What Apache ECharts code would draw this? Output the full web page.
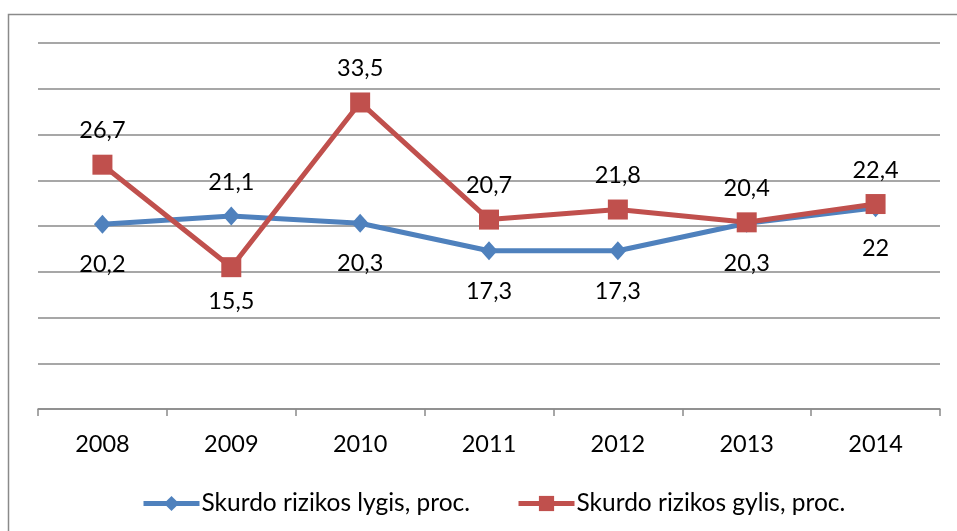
<!DOCTYPE html>
<html>
<head>
<meta charset="utf-8">
<script src="https://cdn.jsdelivr.net/npm/echarts@6/dist/echarts.min.js"></script>
<style>
html,body{margin:0;padding:0;background:#fff;}
#chart{width:957px;height:531px;}
</style>
</head>
<body>
<div id="chart"></div>
<script>
const years = ['2008','2009','2010','2011','2012','2013','2014'];
const lygis = [20.2, 21.1, 20.3, 17.3, 17.3, 20.3, 22];
const gylis = [26.7, 15.5, 33.5, 20.7, 21.8, 20.4, 22.4];
const seriesNames = ['Skurdo rizikos lygis, proc.', 'Skurdo rizikos gylis, proc.'];

const FONT = 'Lato';
const FS = 23.5;
const fmt = p => String(p.value).replace('.', ',');

// which points have their label flipped relative to the series default
const lygisAbove = [1];
const gylisBelow = [1];

function build(values, defPos, flipIdx, flipPos, defDist, flipDist) {
  return values.map((v, i) => {
    const flip = flipIdx.indexOf(i) >= 0;
    return {
      value: v,
      label: { position: flip ? flipPos : defPos, distance: flip ? flipDist : defDist }
    };
  });
}

const chart = echarts.init(document.getElementById('chart'), null, {renderer: 'canvas'});
chart.setOption({
  animation: false,
  backgroundColor: '#fff',
  textStyle: {fontFamily: FONT},
  graphic: [{
    type: 'rect',
    shape: {x: 8.5, y: 14.5, width: 1000, height: 600},
    style: {fill: 'none', stroke: '#8a8a8a', lineWidth: 1.5},
    silent: true, z: -1
  }],
  grid: {left: 38, right: 17, top: 43, bottom: 122},
  legend: {
    data: seriesNames,
    left: 136, top: 486,
    itemWidth: 56, itemHeight: 19, itemGap: 46,
    lineStyle: {width: 5},
    textStyle: {fontFamily: FONT, fontSize: 24.5, color: '#000', padding: [0,0,0,-3]}
  },
  xAxis: {
    type: 'category',
    data: years,
    boundaryGap: true,
    axisLine: {lineStyle: {color: '#8a8a8a', width: 1.5}},
    axisTick: {show: true, length: 7, lineStyle: {color: '#8a8a8a', width: 1.5}},
    axisLabel: {fontFamily: FONT, fontSize: FS, color: '#000', margin: 23}
  },
  yAxis: {
    type: 'value',
    min: 0, max: 40, interval: 5,
    axisLabel: {show: false},
    axisLine: {show: false},
    axisTick: {show: false},
    splitLine: {lineStyle: {color: '#8a8a8a', width: 1.5}}
  },
  series: [{
    name: seriesNames[0],
    type: 'line',
    data: build(lygis, 'bottom', lygisAbove, 'top', 19, 12),
    color: '#4F81BD',
    lineStyle: {width: 5, color: '#4F81BD'},
    symbol: 'diamond',
    symbolSize: [17, 19],
    itemStyle: {color: '#4F81BD'},
    label: {show: true, formatter: fmt, fontFamily: FONT, fontSize: FS, color: '#000'},
    z: 2
  }, {
    name: seriesNames[1],
    type: 'line',
    data: build(gylis, 'top', gylisBelow, 'bottom', 12, 12),
    color: '#C0504D',
    lineStyle: {width: 5, color: '#C0504D'},
    symbol: 'rect',
    symbolSize: 20,
    itemStyle: {color: '#C0504D'},
    label: {show: true, formatter: fmt, fontFamily: FONT, fontSize: FS, color: '#000'},
    z: 3
  }]
});
</script>
</body>
</html>
